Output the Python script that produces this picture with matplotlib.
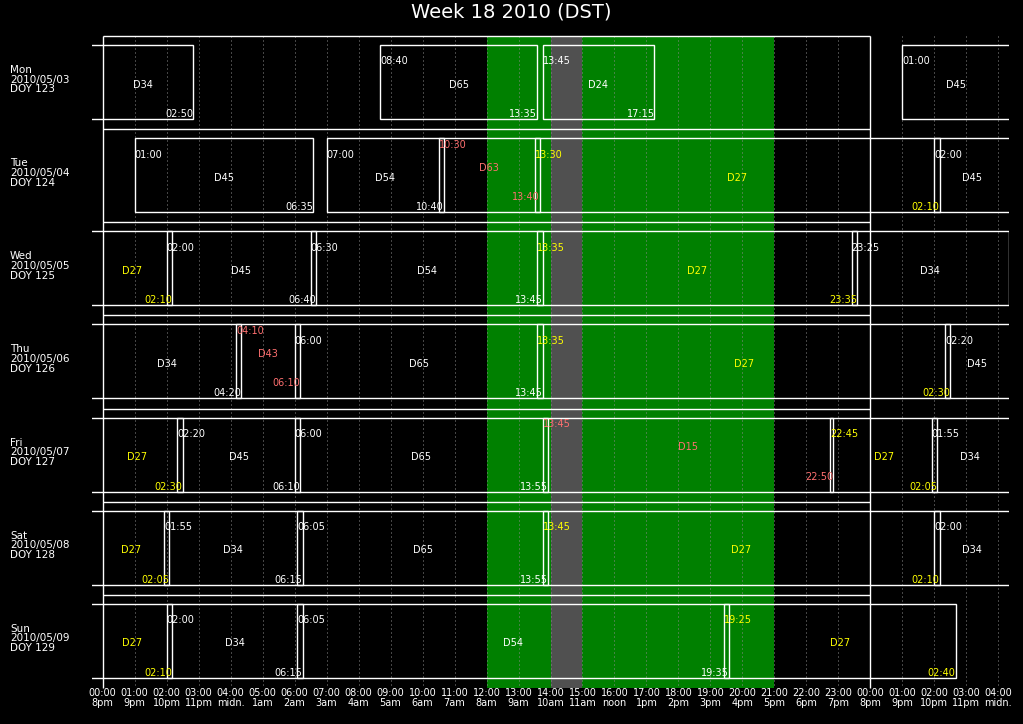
import numpy as np
import matplotlib
matplotlib.use("Agg")
import matplotlib.pyplot as plt
from matplotlib.patches import Rectangle

# ---------------------------------------------
# data read from the weekly schedule
# ---------------------------------------------
DAY_NAMES = ["Mon", "Tue", "Wed", "Thu", "Fri", "Sat", "Sun"]
DAY_DATES = ["2010/05/03", "2010/05/04", "2010/05/05", "2010/05/06",
             "2010/05/07", "2010/05/08", "2010/05/09"]
DAY_DOY = [123, 124, 125, 126, 127, 128, 129]

# "PrevSun" = the Sunday before, "NextMon" = the Monday after
EVENT_NAMES = ["D34", "D65", "D24", "D45", "D54", "D63", "D27", "D45",
               "D54", "D27", "D34", "D43", "D65", "D27", "D45", "D65",
               "D15", "D27", "D34", "D65", "D27", "D34", "D54", "D27"]
EVENT_START = ["PrevSun 22:00", "Mon 08:40", "Mon 13:45", "Tue 01:00",
               "Tue 07:00", "Tue 10:30", "Tue 13:30", "Wed 02:00",
               "Wed 06:30", "Wed 13:35", "Wed 23:25", "Thu 04:10",
               "Thu 06:00", "Thu 13:35", "Fri 02:20", "Fri 06:00",
               "Fri 13:45", "Fri 22:45", "Sat 01:55", "Sat 06:05",
               "Sat 13:45", "Sun 02:00", "Sun 06:05", "Sun 19:25"]
EVENT_END = ["Mon 02:50", "Mon 13:35", "Mon 17:15", "Tue 06:35",
             "Tue 10:40", "Tue 13:40", "Wed 02:10", "Wed 06:40",
             "Wed 13:45", "Wed 23:35", "Thu 04:20", "Thu 06:10",
             "Thu 13:45", "Fri 02:30", "Fri 06:10", "Fri 13:55",
             "Fri 22:50", "Sat 02:05", "Sat 06:15", "Sat 13:55",
             "Sun 02:10", "Sun 06:15", "Sun 19:35", "NextMon 02:40"]

YELLOW_NAMES = ["D27"]
RED_NAMES = ["D63", "D43", "D15"]

TICK_HOURS = list(range(29))
TICK_UTC = ["00:00", "01:00", "02:00", "03:00", "04:00", "05:00", "06:00",
            "07:00", "08:00", "09:00", "10:00", "11:00", "12:00", "13:00",
            "14:00", "15:00", "16:00", "17:00", "18:00", "19:00", "20:00",
            "21:00", "22:00", "23:00", "00:00", "01:00", "02:00", "03:00",
            "04:00"]
TICK_LOCAL = ["8pm", "9pm", "10pm", "11pm", "midn.", "1am", "2am", "3am",
              "4am", "5am", "6am", "7am", "8am", "9am", "10am", "11am",
              "noon", "1pm", "2pm", "3pm", "4pm", "5pm", "6pm", "7pm",
              "8pm", "9pm", "10pm", "11pm", "midn."]

SUN_SPAN = (12, 21)
DARK_SPAN = (14, 15)

DAY_INDEX = {"PrevSun": -1, "Mon": 0, "Tue": 1, "Wed": 2, "Thu": 3,
             "Fri": 4, "Sat": 5, "Sun": 6, "NextMon": 7}


def to_hours(stamp):
    day, hm = stamp.split()
    h, m = hm.split(":")
    return DAY_INDEX[day] * 24 + int(h) + int(m) / 60.0


def event_color(name):
    if name in YELLOW_NAMES:
        return "#ffff00"
    if name in RED_NAMES:
        return "#ff7070"
    return "white"


# =============================================
# FIGURE
# =============================================
XMIN, XMAX = -1.0 / 3, 28 + 1.0 / 3
LAST_START = 28          # events starting after 04:00 are left out of a row
ROW_PX = 652 / 7.0
FS = 7


def px(p):
    return p / ROW_PX


fig = plt.figure(figsize=(10.23, 7.24), dpi=100, facecolor="black")
ax = fig.add_axes([92 / 1023, 36 / 724, 917 / 1023, 652 / 724])
ax.set_facecolor("black")
ax.set_xlim(XMIN, XMAX)
ax.set_ylim(7, 0)
for sp in ax.spines.values():
    sp.set_visible(False)

ax.axvspan(*SUN_SPAN, color="#008000", lw=0, zorder=0)
ax.axvspan(*DARK_SPAN, color="#505050", lw=0, zorder=0.5)
ax.vlines(TICK_HOURS, 0, 7, colors="#8a8a8a", linestyles=(0, (1, 3)),
          lw=0.72, zorder=1)
ax.hlines(np.arange(7), 0, 24, colors="white", lw=1, zorder=3, clip_on=False)
ax.vlines([0, 24], 0, 7, colors="white", lw=1, zorder=3, clip_on=False)

for name, s_txt, e_txt in zip(EVENT_NAMES, EVENT_START, EVENT_END):
    s, e = to_hours(s_txt), to_hours(e_txt)
    col = event_color(name)
    shift = -10 if name in RED_NAMES else 0
    for row in range(7):
        s_rel, e_rel = s - row * 24, e - row * 24
        if e_rel <= XMIN or s_rel >= LAST_START:
            continue
        top = row + px(9)
        ax.add_patch(Rectangle((s_rel, top), e_rel - s_rel, px(74), fill=False,
                               ec="white", lw=1, zorder=4))
        if s_rel >= XMIN:
            ax.text(s_rel, top + px(19.5 + shift), s_txt.split()[1],
                    color=col, fontsize=FS, ha="left", va="baseline", zorder=5)
        if e_rel < XMAX - 1e-6:
            ax.text(e_rel, top + px(72 + shift), e_txt.split()[1],
                    color=col, fontsize=FS, ha="right", va="baseline", zorder=5)
        cx = (max(s_rel, XMIN) + min(e_rel, XMAX)) / 2
        ax.text(cx, top + px(42.5 + shift), name, color=col, fontsize=FS,
                ha="center", va="baseline", zorder=5)

lx = XMIN + (10 - 92) / 32.0
for row in range(7):
    ax.text(lx, row + px(37), DAY_NAMES[row], color="white", fontsize=7.5,
            ha="left", va="baseline")
    ax.text(lx, row + px(46.5), DAY_DATES[row], color="white", fontsize=7.5,
            ha="left", va="baseline")
    ax.text(lx, row + px(56.5), "DOY %d" % DAY_DOY[row], color="white",
            fontsize=7.5, ha="left", va="baseline")

ax.set_xticks(TICK_HOURS)
ax.set_xticklabels([u + "\n" + l for u, l in zip(TICK_UTC, TICK_LOCAL)])
ax.tick_params(axis="x", length=0, pad=0, colors="white", labelsize=FS)
for lbl in ax.get_xticklabels():
    lbl.set_linespacing(1.05)
ax.set_yticks([])

fig.text(0.5, 1 - 18 / 724, "Week 18 2010 (DST)", color="white", fontsize=14,
         ha="center", va="baseline")

fig.savefig("out.png", dpi=100, facecolor="black")
